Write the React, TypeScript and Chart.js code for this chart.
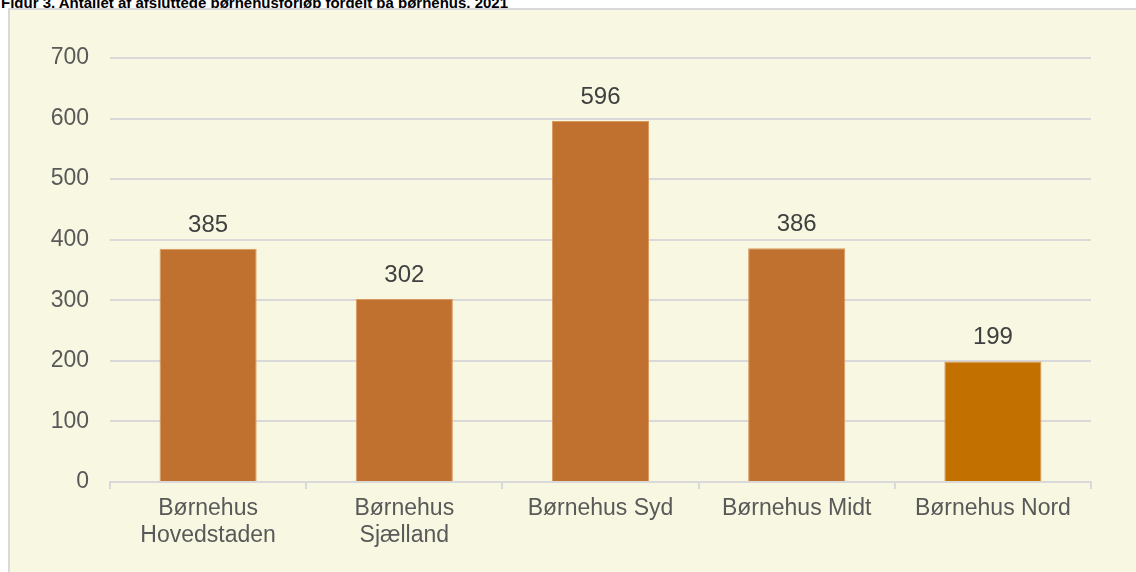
import React, { useEffect, useRef } from "react";
import { Chart, registerables } from "chart.js";

Chart.register(...registerables);

const TITLE = "Figur 3. Antallet af afsluttede børnehusforløb fordelt på børnehus, 2021";
const categories: string[][] = [
  ["Børnehus", "Hovedstaden"],
  ["Børnehus", "Sjælland"],
  ["Børnehus Syd"],
  ["Børnehus Midt"],
  ["Børnehus Nord"],
];
const values: number[] = [385, 302, 596, 386, 199];
const barColors: string[] = ["#C0702F", "#C0702F", "#C0702F", "#C0702F", "#C27000"];
const yTicks: number[] = [0, 100, 200, 300, 400, 500, 600, 700];

const FONT = "'Liberation Sans', Arial, sans-serif";

const valueLabels = {
  id: "valueLabels",
  afterDatasetsDraw(chart: any) {
    const ctx = chart.ctx;
    const meta = chart.getDatasetMeta(0);
    ctx.save();
    ctx.font = `24px ${FONT}`;
    ctx.fillStyle = "#404040";
    ctx.textAlign = "center";
    ctx.textBaseline = "alphabetic";
    meta.data.forEach((bar: any, i: number) => {
      ctx.fillText(String(values[i]), bar.x, bar.y - 17);
    });
    ctx.restore();
  },
};

export default function App() {
  const ref = useRef<HTMLCanvasElement | null>(null);
  useEffect(() => {
    if (!ref.current) return;
    const chart = new Chart(ref.current, {
      type: "bar",
      data: {
        labels: categories,
        datasets: [
          {
            data: values,
            backgroundColor: barColors,
            borderColor: "#D9985E",
            borderWidth: 1,
            categoryPercentage: 1,
            barPercentage: 0.495,
          },
        ],
      },
      options: {
        animation: false,
        responsive: false,
        maintainAspectRatio: false,
        layout: { padding: { left: 0, right: 45, top: 58, bottom: 0 } },
        plugins: {
          legend: { display: false },
          tooltip: { enabled: false },
          title: { display: false },
        },
        scales: {
          x: {
            offset: true,
            grid: {
              display: true,
              offset: true,
              drawOnChartArea: false,
              drawTicks: true,
              tickLength: 7,
              color: "#D9D9D9",
              lineWidth: 2,
            },
            border: { display: true, color: "#D9D9D9", width: 2 },
            ticks: {
              color: "#595959",
              font: { family: FONT, size: 23, lineHeight: 1.17 },
              padding: 6,
              maxRotation: 0,
              autoSkip: false,
            },
            afterFit(scale: any) {
              scale.height = 90;
            },
          },
          y: {
            min: 0,
            max: 700,
            afterBuildTicks(scale: any) {
              scale.ticks = yTicks.map((v) => ({ value: v }));
            },
            grid: { color: "#D9D9D9", lineWidth: 2, drawTicks: false },
            border: { display: false },
            ticks: {
              color: "#595959",
              font: { family: FONT, size: 23 },
              padding: 21,
            },
            afterFit(scale: any) {
              scale.width = 110;
            },
          },
        },
      },
      plugins: [valueLabels],
    });
    return () => chart.destroy();
  }, []);

  return (
    <div style={{ position: "fixed", left: 0, top: 0, width: 1136, height: 572, overflow: "hidden", background: "#FFFFFF" }}>
      <div
        style={{
          position: "absolute",
          left: 1,
          top: -5,
          fontFamily: FONT,
          fontWeight: "bold",
          fontSize: 15,
          color: "#000000",
          whiteSpace: "nowrap",
          lineHeight: "16px",
        }}
      >
        {TITLE}
      </div>
      <div
        style={{
          position: "absolute",
          left: 8,
          top: 8,
          width: 1160,
          height: 600,
          background: "#F8F8E2",
          borderLeft: "2px solid #D9D9D9",
          borderTop: "2px solid #D9D9D9",
        }}
      />
      <canvas ref={ref} width={1136} height={572} style={{ position: "absolute", left: 0, top: 0 }} />
    </div>
  );
}
